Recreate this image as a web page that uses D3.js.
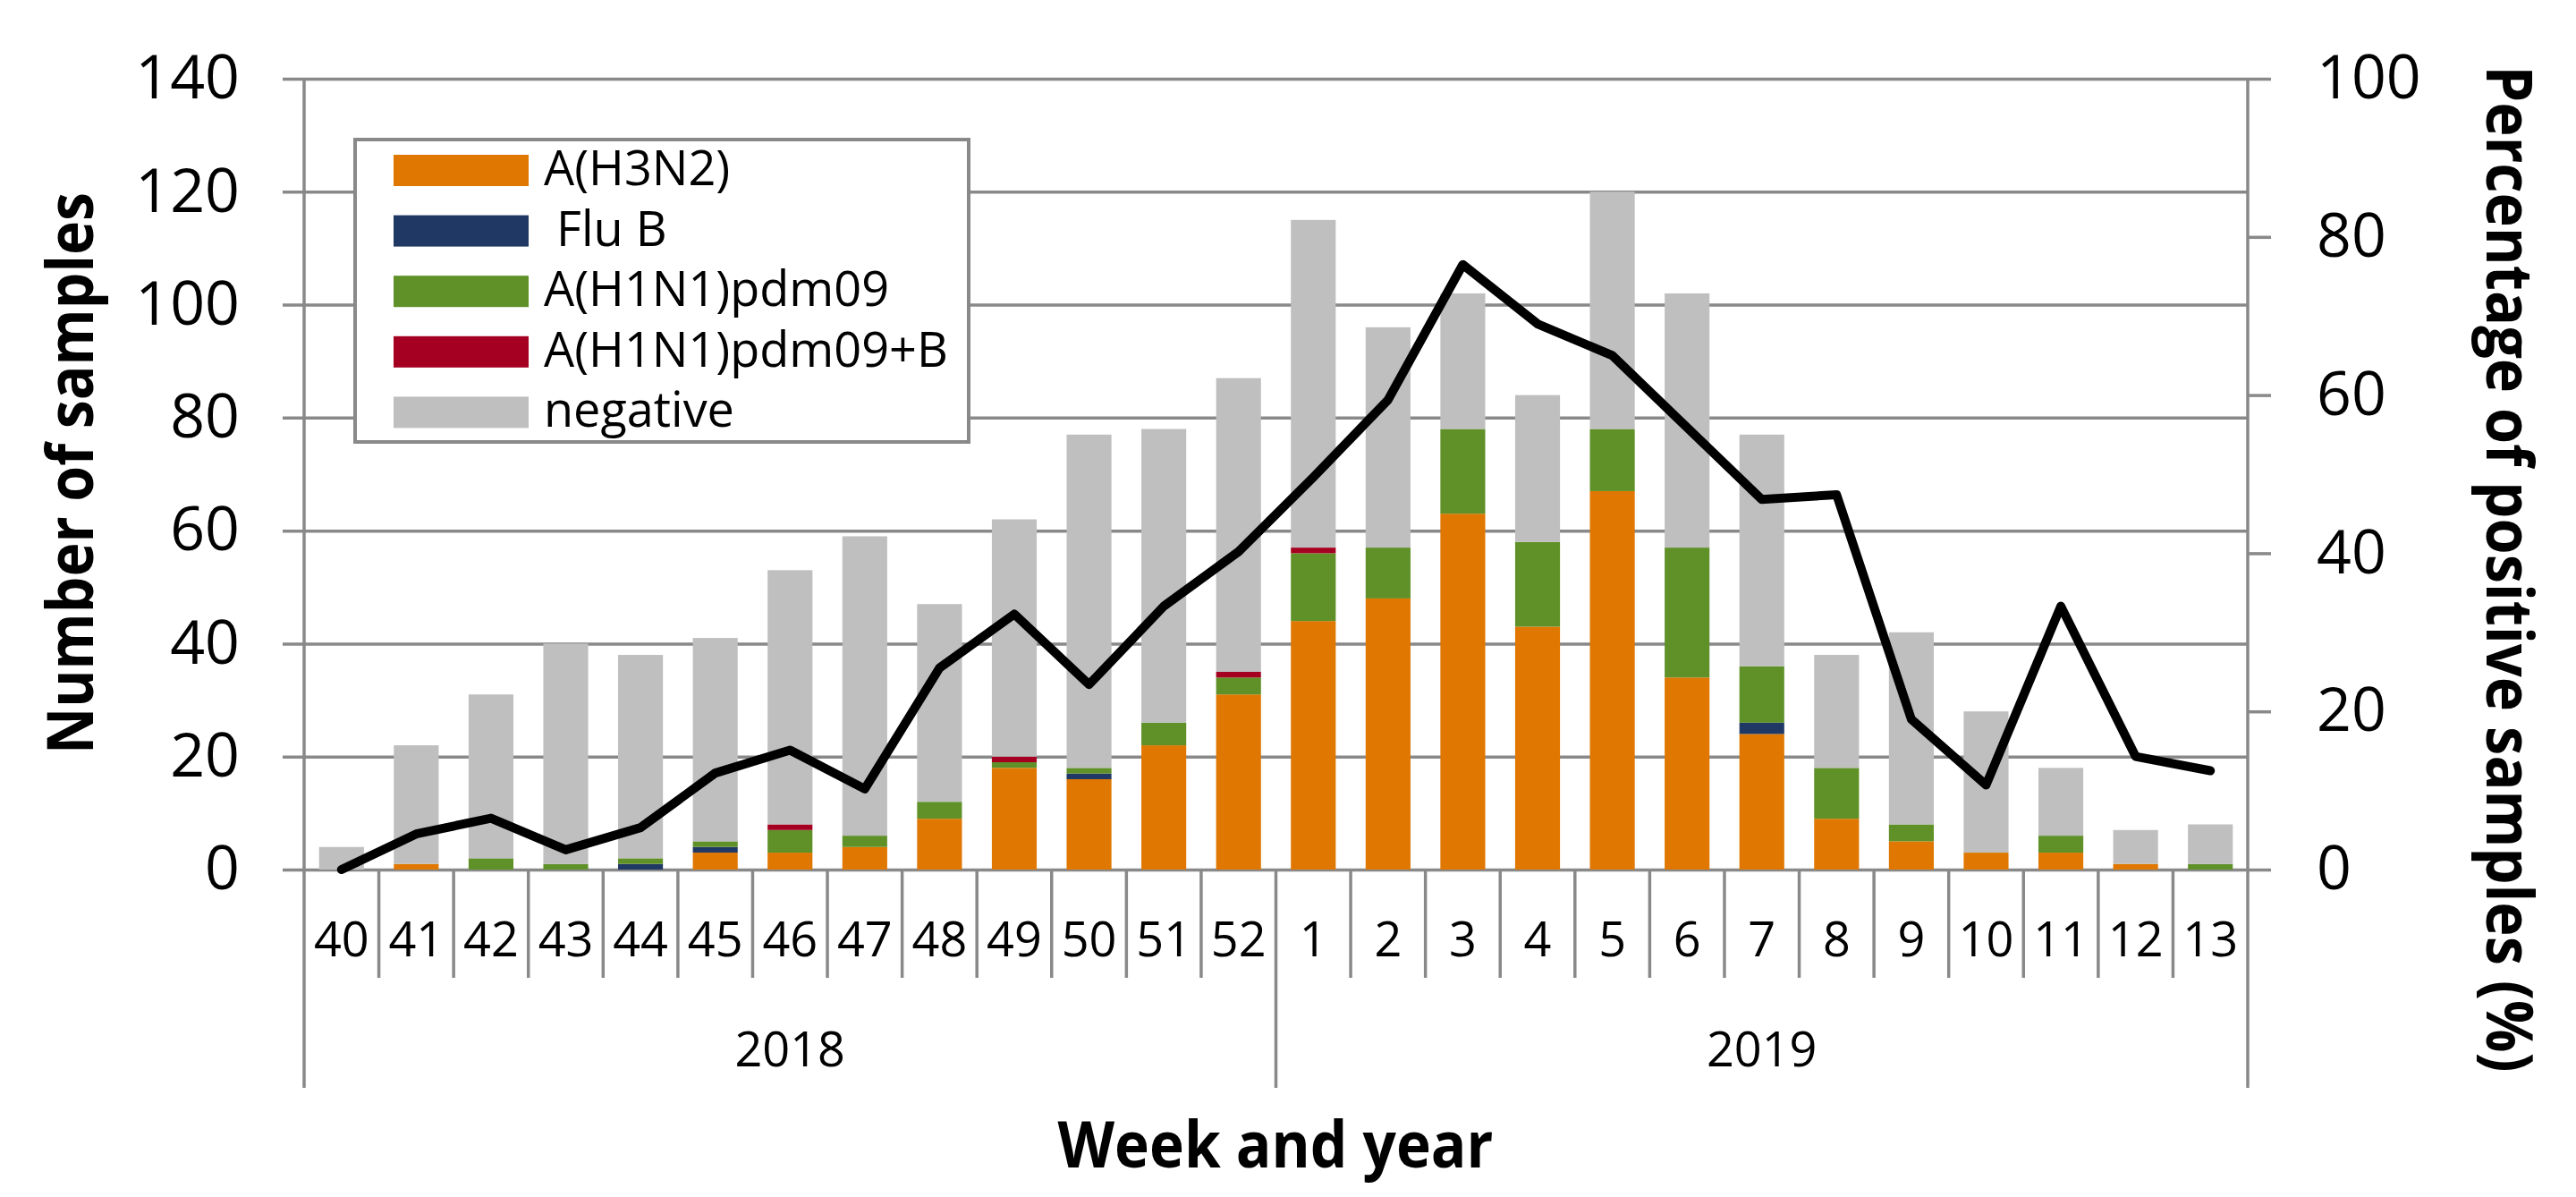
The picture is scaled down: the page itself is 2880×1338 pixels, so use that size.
<!DOCTYPE html>
<html>
<head>
<meta charset="utf-8">
<script src="https://cdn.jsdelivr.net/npm/d3@7/dist/d3.min.js"></script>
<style>
  body { margin: 0; background: #fff; }
  svg { display: block; }
</style>
</head>
<body>
<div id="chart"></div>
<script>
/*jshint esversion: 6 */

// categories
const weeks2018 = ['40', '41', '42', '43', '44', '45', '46', '47', '48', '49', '50', '51', '52'];
const weeks2019 = ['1', '2', '3', '4', '5', '6', '7', '8', '9', '10', '11', '12', '13'];
const years = ['2018', '2019'];

// series (number of samples per week)
const h3n2     = [0, 1, 0, 0, 0, 3, 3, 4, 9, 18, 16, 22, 31, 44, 48, 63, 43, 67, 34, 24, 9, 5, 3, 3, 1, 0];
const fluB     = [0, 0, 0, 0, 1, 1, 0, 0, 0, 0, 1, 0, 0, 0, 0, 0, 0, 0, 0, 2, 0, 0, 0, 0, 0, 0];
const h1n1     = [0, 0, 2, 1, 1, 1, 4, 2, 3, 1, 1, 4, 3, 12, 9, 15, 15, 11, 23, 10, 9, 3, 0, 3, 0, 1];
const h1n1B    = [0, 0, 0, 0, 0, 0, 1, 0, 0, 1, 0, 0, 1, 1, 0, 0, 0, 0, 0, 0, 0, 0, 0, 0, 0, 0];
const negative = [4, 21, 29, 39, 36, 36, 45, 53, 35, 42, 59, 52, 52, 58, 39, 24, 26, 42, 45, 41, 20, 34, 25, 12, 6, 7];

// percentage of positive samples (right axis)
const pctPositive = [0, 4.5, 6.5, 2.5, 5.3, 12.2, 15.1, 10.2, 25.5, 32.3, 23.4, 33.3, 40.2,
                     49.6, 59.4, 76.5, 69.0, 65.0, 55.9, 46.8, 47.4, 19.0, 10.7, 33.3, 14.3, 12.5];

// tick labels
const leftTicks = [0, 20, 40, 60, 80, 100, 120, 140];
const rightTicks = [0, 20, 40, 60, 80, 100];

// legend
const seriesKeys = ['h3n2', 'fluB', 'h1n1', 'h1n1B', 'negative'];
const seriesLabels = ['A(H3N2)', ' Flu B', 'A(H1N1)pdm09', 'A(H1N1)pdm09+B', 'negative'];
const seriesColors = ['#e07700', '#203864', '#5f9128', '#a50021', '#bfbfbf'];

class fluChart {
  constructor(dom) {
    this.element = dom;
    this.weeks = weeks2018.concat(weeks2019);
    this.rows = this.weeks.map((w, i) => ({
      week: w, h3n2: h3n2[i], fluB: fluB[i], h1n1: h1n1[i], h1n1B: h1n1B[i], negative: negative[i], pct: pctPositive[i]
    }));
    this.draw();
  }

  draw() {
    this.margin = { top: 88, right: 367, bottom: 366, left: 340 };
    this.w = 2880;
    this.h = 1338;
    this.width = this.w - this.margin.left - this.margin.right;
    this.height = this.h - this.margin.top - this.margin.bottom;

    const font = "'Open Sans', 'DejaVu Sans', sans-serif";
    const gridColor = '#898989';
    const m = this.margin;
    const y0 = m.top + this.height;

    const svg = d3.select(this.element).append('svg')
      .attr('width', this.w)
      .attr('height', this.h)
      .attr('viewBox', `0 0 ${this.w} ${this.h}`)
      .style('font-family', font);

    const x = d3.scaleBand()
      .domain(this.weeks)
      .range([m.left, m.left + this.width])
      .paddingInner(0.4)
      .paddingOuter(0.2);
    const yL = d3.scaleLinear().domain([0, 140]).range([y0, m.top]);
    const yR = d3.scaleLinear().domain([0, 100]).range([y0, m.top]);
    const bw = x.bandwidth();
    const step = x.step();

    // left axis + gridlines
    const gLeft = svg.append('g')
      .attr('transform', `translate(${m.left},0)`)
      .call(d3.axisLeft(yL).tickValues(leftTicks).tickSizeInner(-this.width).tickSizeOuter(0).tickPadding(72))
      .attr('font-family', font)
      .attr('font-size', 68);
    gLeft.select('.domain').remove();
    gLeft.selectAll('line').attr('x1', -24).attr('stroke', gridColor).attr('stroke-width', 3.5);
    gLeft.selectAll('text').attr('fill', '#000');

    // stacked bars
    const stacked = d3.stack().keys(seriesKeys)(this.rows);
    svg.append('g').selectAll('g')
      .data(stacked)
      .enter().append('g')
      .attr('fill', (d, i) => seriesColors[i])
      .selectAll('rect')
      .data(d => d)
      .enter().append('rect')
      .attr('x', d => x(d.data.week))
      .attr('width', bw)
      .attr('y', d => yL(d[1]))
      .attr('height', d => yL(d[0]) - yL(d[1]));

    // right axis
    const gRight = svg.append('g')
      .attr('transform', `translate(${m.left + this.width},0)`)
      .call(d3.axisRight(yR).tickValues(rightTicks).tickSizeInner(26).tickSizeOuter(0).tickPadding(51))
      .attr('font-family', font)
      .attr('font-size', 68);
    gRight.select('.domain').remove();
    gRight.selectAll('line').attr('stroke', gridColor).attr('stroke-width', 3.5);
    gRight.selectAll('text').attr('fill', '#000');

    // bottom week labels
    const gBottom = svg.append('g')
      .attr('transform', `translate(0,${y0})`)
      .call(d3.axisBottom(x).tickSizeInner(0).tickSizeOuter(0).tickPadding(59))
      .attr('font-family', font)
      .attr('font-size', 54);
    gBottom.select('.domain').remove();
    gBottom.selectAll('text').attr('fill', '#000');

    // category separators
    const seps = d3.range(1, this.weeks.length);
    svg.append('g').selectAll('line')
      .data(seps)
      .enter().append('line')
      .attr('x1', i => m.left + i * step)
      .attr('x2', i => m.left + i * step)
      .attr('y1', y0)
      .attr('y2', i => i === weeks2018.length ? 1216 : 1093)
      .attr('stroke', gridColor)
      .attr('stroke-width', 3.5);

    // vertical axis lines
    svg.append('g').selectAll('line')
      .data([m.left, m.left + this.width])
      .enter().append('line')
      .attr('x1', d => d).attr('x2', d => d)
      .attr('y1', m.top).attr('y2', 1216)
      .attr('stroke', gridColor)
      .attr('stroke-width', 3.5);

    // year labels
    const groups = [weeks2018, weeks2019];
    svg.append('g').selectAll('text')
      .data(years)
      .enter().append('text')
      .attr('x', (d, i) => {
        const g = groups[i];
        const a = x(g[0]) - (step - bw) / 2;
        const b = x(g[g.length - 1]) + bw + (step - bw) / 2;
        return (a + b) / 2;
      })
      .attr('y', 1192)
      .attr('text-anchor', 'middle')
      .attr('font-size', 54)
      .text(d => d);

    // percentage line
    const line = d3.line()
      .x(d => x(d.week) + bw / 2)
      .y(d => yR(d.pct));
    svg.append('path')
      .datum(this.rows)
      .attr('d', line)
      .attr('fill', 'none')
      .attr('stroke', '#000')
      .attr('stroke-width', 10)
      .attr('stroke-linejoin', 'round')
      .attr('stroke-linecap', 'round');

    // axis titles
    svg.append('text')
      .attr('transform', 'translate(104,529) rotate(-90)')
      .attr('text-anchor', 'middle')
      .attr('font-size', 71)
      .attr('font-weight', 'bold')
      .attr('textLength', 628)
      .attr('lengthAdjust', 'spacingAndGlyphs')
      .text('Number of samples');

    svg.append('text')
      .attr('transform', 'translate(2780,636) rotate(90)')
      .attr('text-anchor', 'middle')
      .attr('font-size', 71)
      .attr('font-weight', 'bold')
      .attr('textLength', 1125)
      .attr('lengthAdjust', 'spacingAndGlyphs')
      .text('Percentage of positive samples (%)');

    svg.append('text')
      .attr('x', 1426)
      .attr('y', 1305)
      .attr('text-anchor', 'middle')
      .attr('font-size', 71)
      .attr('font-weight', 'bold')
      .attr('textLength', 487)
      .attr('lengthAdjust', 'spacingAndGlyphs')
      .text('Week and year');

    // legend
    const legend = svg.append('g');
    legend.append('rect')
      .attr('x', 397).attr('y', 156)
      .attr('width', 686).attr('height', 338)
      .attr('fill', '#fff')
      .attr('stroke', gridColor)
      .attr('stroke-width', 4);
    const items = legend.selectAll('.item')
      .data(seriesLabels)
      .enter().append('g')
      .attr('class', 'item')
      .attr('transform', (d, i) => `translate(440,${173 + i * 67.6})`);
    items.append('rect')
      .attr('width', 151).attr('height', 35)
      .attr('fill', (d, i) => seriesColors[i]);
    items.append('text')
      .attr('x', 168).attr('y', 34)
      .attr('font-size', 54)
      .style('white-space', 'pre')
      .text(d => d);
  }
}

new fluChart(document.getElementById('chart'));
</script>
</body>
</html>
